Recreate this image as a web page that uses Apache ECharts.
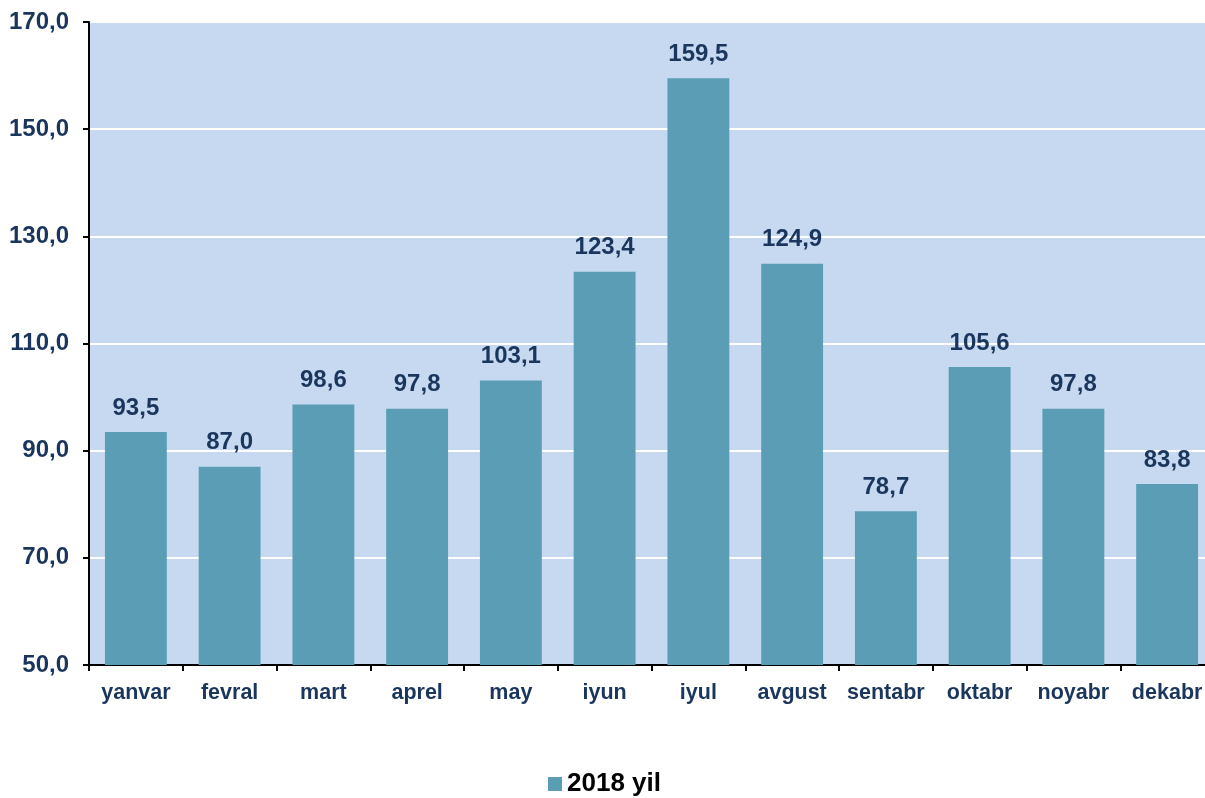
<!DOCTYPE html>
<html>
<head>
<meta charset="utf-8">
<script src="https://cdn.jsdelivr.net/npm/echarts@6/dist/echarts.min.js"></script>
<style>
  html, body { margin: 0; padding: 0; background: #fff; overflow: hidden; }
  /* область графика в оригинале уходит за правый край картинки */
  #chart { width: 1214px; height: 798px; }
</style>
</head>
<body>
<div id="chart"></div>
<script>
const months = ["yanvar", "fevral", "mart", "aprel", "may", "iyun", "iyul", "avgust", "sentabr", "oktabr", "noyabr", "dekabr"];
const values2018 = [93.5, 87.0, 98.6, 97.8, 103.1, 123.4, 159.5, 124.9, 78.7, 105.6, 97.8, 83.8];
const seriesName = "2018 yil";

// ось начинается с 50, а шаг 20 — сдвигаем базу, чтобы деления шли 50, 70, 90...
const base = 50;
const axisMax = 170;
const step = 20;

const fontFamily = "'Liberation Sans', Arial, sans-serif";
const textColor = "#1B365D";
const fmt = v => v.toFixed(1).replace(".", ",");

const chart = echarts.init(document.getElementById("chart"));

chart.setOption({
    animation: false,
    textStyle: { fontFamily: fontFamily },
    grid: {
        left: 89, right: 0, top: 22, bottom: 133,
        show: true, backgroundColor: "#C6D9F0", borderWidth: 0
    },
    legend: {
        bottom: -4,
        left: 543,
        icon: "rect",
        itemWidth: 14,
        itemHeight: 14,
        itemGap: 6,
        textStyle: { fontSize: 26, fontWeight: "bold", color: "#000", fontFamily: fontFamily },
        data: [seriesName]
    },
    xAxis: {
        type: "category",
        data: months,
        axisLine: { lineStyle: { color: "#000", width: 2 } },
        axisTick: { show: true, interval: 0, length: 6, lineStyle: { color: "#000", width: 2 } },
        axisLabel: { interval: 0, margin: 17, fontSize: 21.5, fontWeight: "bold", color: textColor, fontFamily: fontFamily }
    },
    yAxis: {
        type: "value",
        min: 0,
        max: axisMax - base,
        interval: step,
        axisLine: { show: true, lineStyle: { color: "#000", width: 2 } },
        axisTick: { show: true, length: 6, lineStyle: { color: "#000", width: 2 } },
        splitLine: { show: true, lineStyle: { color: "#fff", width: 2 } },
        axisLabel: {
            margin: 20, fontSize: 24, fontWeight: "bold", color: textColor, fontFamily: fontFamily,
            formatter: v => fmt(v + base)
        }
    },
    series: [{
        name: seriesName,
        type: "bar",
        data: values2018.map(v => v - base),
        barCategoryGap: "34%",
        itemStyle: { color: "#5B9DB4" },
        label: {
            show: true,
            position: "top",
            distance: 12,
            fontSize: 24,
            fontWeight: "bold",
            color: textColor,
            fontFamily: fontFamily,
            formatter: p => fmt(values2018[p.dataIndex])
        }
    }]
});
</script>
</body>
</html>
